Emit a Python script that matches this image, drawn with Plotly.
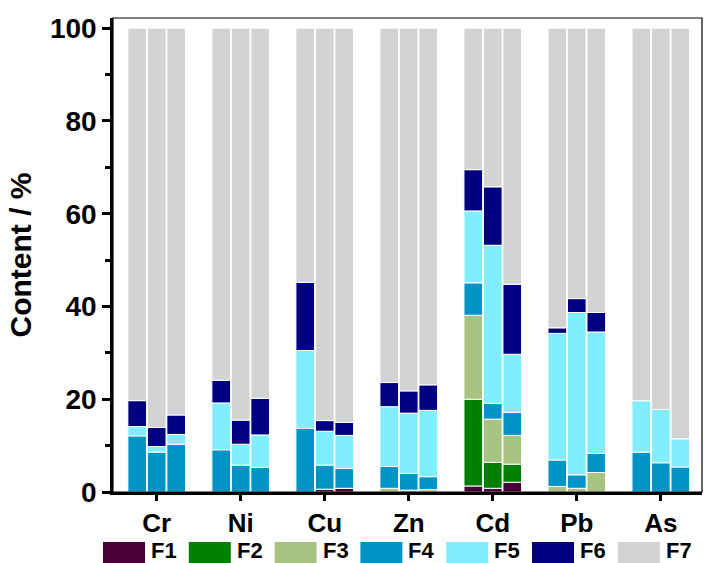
import plotly.graph_objects as go

# Heavy-metal speciation: seven fractions (F1..F7) for three samples per element
metals = ["Cr", "Ni", "Cu", "Zn", "Cd", "Pb", "As"]
fractions = ["F1", "F2", "F3", "F4", "F5", "F6", "F7"]

# Percent content of each fraction; three consecutive values per element
F1 = [0.0, 0.0, 0.0,   0.0, 0.0, 0.0,   0.0, 0.6, 0.8,   0.0, 0.0, 0.0,   1.3, 0.8, 2.1,   0.0, 0.0, 0.0,   0.0, 0.0, 0.0]
F2 = [0.0, 0.0, 0.0,   0.0, 0.0, 0.0,   0.0, 0.0, 0.0,   0.0, 0.0, 0.0,   18.7, 5.6, 3.9,  0.0, 0.0, 0.0,   0.0, 0.0, 0.0]
F3 = [0.0, 0.0, 0.0,   0.0, 0.0, 0.0,   0.0, 0.0, 0.0,   0.8, 0.4, 0.5,   18.1, 9.3, 6.2,  1.2, 0.8, 4.2,   0.0, 0.0, 0.0]
F4 = [12.1, 8.6, 10.3, 9.1, 5.8, 5.3,   13.7, 5.2, 4.3,  4.7, 3.6, 2.8,   7.0, 3.4, 5.0,   5.7, 2.9, 4.1,   8.6, 6.3, 5.4]
F5 = [2.0, 1.2, 2.1,   10.1, 4.5, 7.0,  16.8, 7.3, 7.1,  12.9, 13.0, 14.3, 15.5, 34.1, 12.5, 27.3, 35.0, 26.2, 11.1, 11.5, 6.1]
F6 = [5.6, 4.1, 4.2,   4.9, 5.2, 7.9,   14.7, 2.3, 2.8,  5.2, 4.8, 5.5,   8.9, 12.6, 15.1, 1.2, 3.0, 4.2,   0.0, 0.0, 0.0]
F7 = [80.3, 86.1, 83.4, 75.9, 84.5, 79.8, 54.8, 84.6, 85.0, 76.4, 78.2, 76.9, 30.5, 34.2, 55.2, 64.6, 58.3, 61.3, 80.3, 82.2, 88.5]

series = [F1, F2, F3, F4, F5, F6, F7]
colors = ["#4a0036", "#008000", "#a8c382", "#0093c6", "#80eeff", "#000080", "#d3d3d3"]

# three bars side by side within each element group
offsets = [-0.232, 0.0, 0.232]
bar_width = 0.222
xpos = [i + off for i in range(len(metals)) for off in offsets]

FONT = "Liberation Sans, Arial, sans-serif"

fig = go.Figure()
for name, vals, col in zip(fractions, series, colors):
    fig.add_trace(go.Bar(
        x=xpos, y=vals, name=name, width=bar_width,
        marker=dict(color=col, line=dict(color="white", width=1)),
        showlegend=False,
    ))

# Hand-drawn legend row: wide colour swatch followed by the fraction label
shapes = []
annotations = []
x0_px, y_top, y_bot = 113, 18, 492
pw, ph = 702 - x0_px, y_bot - y_top


def px_x(v):
    return (v - x0_px) / pw


def px_y(v):
    return (y_bot - v) / ph


for k, (name, col) in enumerate(zip(fractions, colors)):
    left = 103 + k * 85.8
    shapes.append(dict(type="rect", xref="paper", yref="paper",
                       x0=px_x(left), x1=px_x(left + 42),
                       y0=px_y(563), y1=px_y(542),
                       fillcolor=col, line=dict(width=0), layer="above"))
    annotations.append(dict(xref="paper", yref="paper", x=px_x(left + 46), y=px_y(550),
                            text=name, showarrow=False, xanchor="left", yanchor="middle",
                            font=dict(family=FONT, size=22, color="black", weight="bold")))

# thin frame around the plotting area
shapes.append(dict(type="rect", xref="paper", yref="paper", x0=0, x1=1, y0=0, y1=1,
                   line=dict(color="black", width=1.2), layer="above"))

fig.update_layout(
    barmode="relative",
    width=713, height=563,
    margin=dict(l=113, r=11, t=18, b=71),
    paper_bgcolor="white", plot_bgcolor="white",
    shapes=shapes, annotations=annotations,
    font=dict(family=FONT, color="black"),
)

fig.update_xaxes(
    range=[-0.52, 6.49],
    tickvals=list(range(len(metals))), ticktext=metals,
    ticks="outside", ticklen=6, tickwidth=2.5, tickcolor="black",
    showline=True, linewidth=2.5, linecolor="black",
    showgrid=False, zeroline=False,
    tickfont=dict(family=FONT, size=26, color="black", weight="bold"),
)

fig.update_yaxes(
    range=[0, 102.2],
    tickvals=[0, 20, 40, 60, 80, 100],
    ticks="outside", ticklen=8, tickwidth=2.5, tickcolor="black",
    minor=dict(tickvals=[10, 30, 50, 70, 90], ticks="outside", ticklen=5,
               tickwidth=2.5, tickcolor="black"),
    showline=True, linewidth=2.5, linecolor="black",
    showgrid=False, zeroline=False,
    tickfont=dict(family=FONT, size=28, color="black", weight="bold"),
    title=dict(text="Content / %", standoff=10,
               font=dict(family=FONT, size=30, color="black", weight="bold")),
)

fig.write_html("out.html")
